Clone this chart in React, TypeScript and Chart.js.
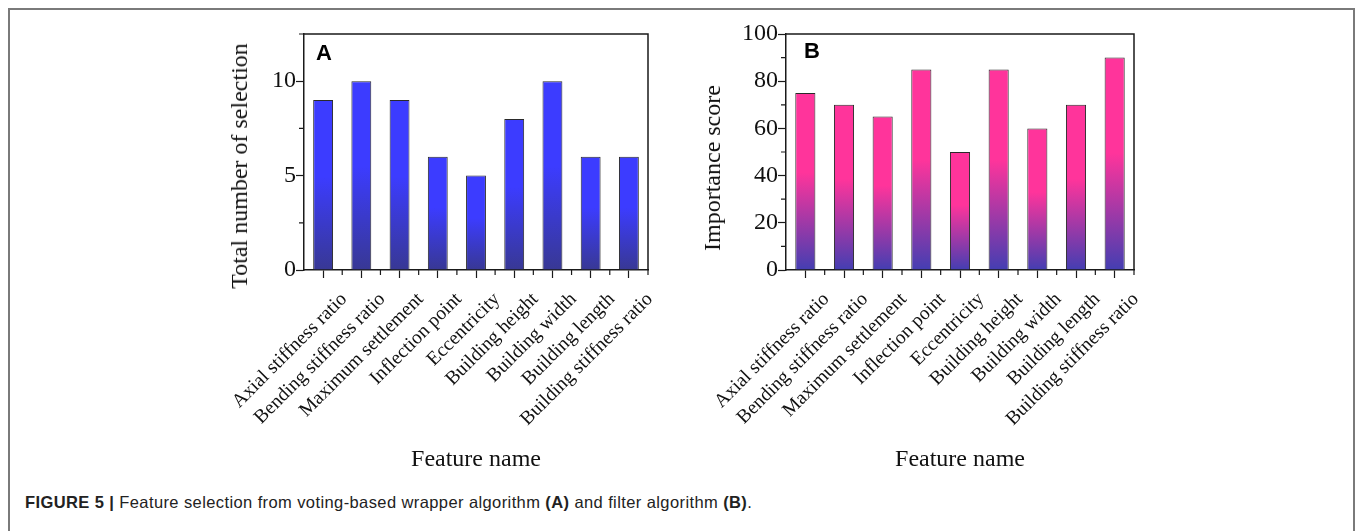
import React, { useEffect, useRef } from "react";
import { Chart, registerables } from "chart.js";

Chart.register(...registerables);

const categories = [
  "Axial stiffness ratio",
  "Bending stiffness ratio",
  "Maximum settlement",
  "Inflection point",
  "Eccentricity",
  "Building height",
  "Building width",
  "Building length",
  "Building stiffness ratio",
];
const selectionCounts = [9, 10, 9, 6, 5, 8, 10, 6, 6];
const importanceScores = [75, 70, 65, 85, 50, 85, 60, 70, 90];
const countTicks = [0, 5, 10];
const countMinorTicks = [2.5, 7.5, 12.5];
const scoreTicks = [0, 20, 40, 60, 80, 100];
const scoreMinorTicks = [10, 30, 50, 70, 90];

const SERIF = "'Liberation Serif', 'Times New Roman', serif";
const SANS = "'Liberation Sans', Arial, sans-serif";

function barFill(topColor: string, bottomColor: string) {
  return (ctx: any) => {
    const chart = ctx.chart;
    const y = chart.scales && chart.scales.y;
    if (ctx.type !== "data" || !y) return topColor;
    const v = ctx.raw as number;
    const yTop = y.getPixelForValue(v);
    const yBot = y.getPixelForValue(0);
    if (!isFinite(yTop) || !isFinite(yBot) || yTop === yBot) return topColor;
    const g = chart.ctx.createLinearGradient(0, yTop, 0, yBot);
    g.addColorStop(0, topColor);
    g.addColorStop(0.45, topColor);
    g.addColorStop(1, bottomColor);
    return g;
  };
}

const framePlugin = {
  id: "frameBox",
  afterDraw(chart: any, _args: any, opts: any) {
    const { ctx, chartArea: a, scales } = chart;
    ctx.save();
    ctx.strokeStyle = "#1a1a1a";
    ctx.lineWidth = 1.5;
    ctx.beginPath();
    ctx.moveTo(a.left, a.top);
    ctx.lineTo(a.right, a.top);
    ctx.lineTo(a.right, a.bottom);
    ctx.stroke();
    ctx.lineWidth = 1.2;
    ctx.beginPath();
    for (const v of opts.minorY || []) {
      const py = scales.y.getPixelForValue(v);
      if (py < a.top - 0.5) continue;
      ctx.moveTo(a.left, py);
      ctx.lineTo(a.left - 5, py);
    }
    const n = chart.data.labels.length;
    for (let i = 0; i < n; i++) {
      const px = scales.x.getPixelForValue(i + 0.5);
      if (px > a.right + 0.5) continue;
      ctx.moveTo(px, a.bottom);
      ctx.lineTo(px, a.bottom + 5);
    }
    ctx.stroke();
    ctx.restore();
  },
};

type PanelProps = {
  values: number[];
  yMax: number;
  majorTicks: number[];
  minorTicks: number[];
  topColor: string;
  bottomColor: string;
  left: number;
  top: number;
  width: number;
  height: number;
  yAxisWidth: number;
  xAxisHeight: number;
};

function BarPanel(p: PanelProps) {
  const ref = useRef<HTMLCanvasElement | null>(null);
  useEffect(() => {
    if (!ref.current) return;
    const chart = new Chart(ref.current, {
      type: "bar",
      data: {
        labels: categories,
        datasets: [
          {
            data: p.values,
            backgroundColor: barFill(p.topColor, p.bottomColor),
            borderColor: "#2a2a2a",
            borderWidth: 1,
            barPercentage: 0.52,
            categoryPercentage: 1,
          },
        ],
      },
      options: {
        responsive: false,
        animation: false,
        events: [],
        layout: { padding: { top: 10, right: 12, left: 0, bottom: 0 } },
        plugins: {
          legend: { display: false },
          tooltip: { enabled: false },
          frameBox: { minorY: p.minorTicks },
        } as any,
        scales: {
          x: {
            type: "category",
            offset: true,
            grid: {
              display: true,
              drawOnChartArea: false,
              drawTicks: true,
              tickLength: 8,
              tickWidth: 1.2,
              tickColor: "#1a1a1a",
              offset: false,
            },
            border: { display: true, color: "#1a1a1a", width: 1.5 },
            ticks: {
              autoSkip: false,
              minRotation: 45,
              maxRotation: 45,
              color: "#111",
              font: { family: SERIF, size: 19.5 },
              padding: 10,
              labelOffset: 21,
            },
            title: {
              display: true,
              text: "Feature name",
              color: "#111",
              font: { family: SERIF, size: 24 },
              padding: 0,
            },
            afterFit: (s: any) => {
              s.height = p.xAxisHeight;
              s.paddingLeft = 0;
              s.paddingRight = 0;
            },
          },
          y: {
            type: "linear",
            min: 0,
            max: p.yMax,
            grid: {
              display: true,
              drawOnChartArea: false,
              drawTicks: true,
              tickLength: 8,
              tickWidth: 1.2,
              tickColor: "#1a1a1a",
            },
            border: { display: true, color: "#1a1a1a", width: 1.5 },
            ticks: {
              color: "#111",
              font: { family: SERIF, size: 24 },
              padding: 0,
            },
            afterBuildTicks: (s: any) => {
              s.ticks = p.majorTicks.map((v) => ({ value: v }));
            },
            title: { display: false },
            afterFit: (s: any) => {
              s.width = p.yAxisWidth;
              s.paddingTop = 0;
              s.paddingBottom = 0;
            },
          },
        },
      },
      plugins: [framePlugin],
    });
    return () => chart.destroy();
  }, []);
  return (
    <canvas
      ref={ref}
      width={p.width}
      height={p.height}
      style={{ position: "absolute", left: p.left, top: p.top, width: p.width, height: p.height }}
    />
  );
}

function YTitle({ text, cx, cy }: { text: string; cx: number; cy: number }) {
  return (
    <div
      style={{
        position: "absolute",
        left: cx,
        top: cy,
        transform: "translate(-50%, -50%) rotate(-90deg)",
        font: `24px ${SERIF}`,
        lineHeight: "24px",
        whiteSpace: "nowrap",
        color: "#111",
      }}
    >
      {text}
    </div>
  );
}

export default function App() {
  return (
    <div
      style={{
        position: "absolute",
        left: 0,
        top: 0,
        width: 1357,
        height: 531,
        overflow: "hidden",
        background: "#fff",
      }}
    >
      <div
        style={{
          position: "absolute",
          left: 8,
          top: 8,
          width: 1347,
          height: 600,
          boxSizing: "border-box",
          border: "2px solid #7a7a7a",
        }}
      />
      <BarPanel
        values={selectionCounts}
        yMax={12.5}
        majorTicks={countTicks}
        minorTicks={countMinorTicks}
        topColor="rgb(60,60,255)"
        bottomColor="rgb(56,56,148)"
        left={226}
        top={24}
        width={434}
        height={450}
        yAxisWidth={78}
        xAxisHeight={204}
      />
      <BarPanel
        values={importanceScores}
        yMax={100}
        majorTicks={scoreTicks}
        minorTicks={scoreMinorTicks}
        topColor="rgb(255,52,155)"
        bottomColor="rgb(68,62,178)"
        left={697}
        top={24}
        width={449}
        height={450}
        yAxisWidth={89}
        xAxisHeight={204}
      />
      <YTitle text="Total number of selection" cx={239} cy={166} />
      <YTitle text="Importance score" cx={711.5} cy={167.5} />
      <div
        style={{
          position: "absolute",
          left: 316,
          top: 42,
          font: `bold 22px ${SANS}`,
          lineHeight: "22px",
          color: "#000",
        }}
      >
        A
      </div>
      <div
        style={{
          position: "absolute",
          left: 804,
          top: 40,
          font: `bold 22px ${SANS}`,
          lineHeight: "22px",
          color: "#000",
        }}
      >
        B
      </div>
      <div
        style={{
          position: "absolute",
          left: 25,
          top: 494,
          font: `16.5px ${SANS}`,
          lineHeight: "16.5px",
          letterSpacing: "0.4px",
          color: "#222",
          whiteSpace: "nowrap",
        }}
      >
        <b>FIGURE 5 |</b> Feature selection from voting-based wrapper algorithm <b>(A)</b> and filter algorithm{" "}
        <b>(B)</b>.
      </div>
    </div>
  );
}
